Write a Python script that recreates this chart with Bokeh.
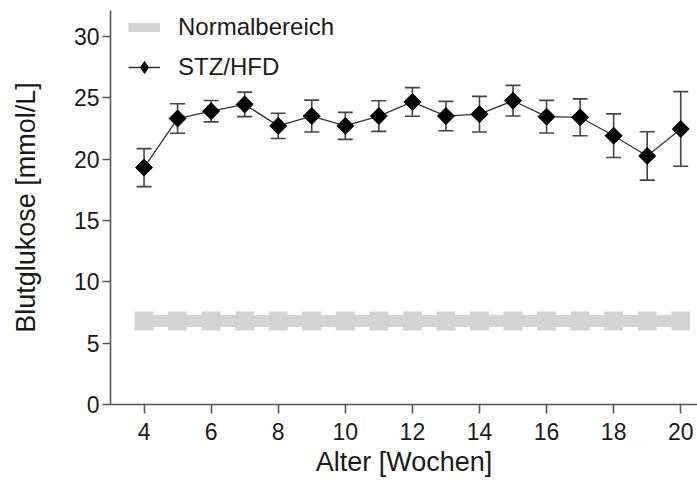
from bokeh.plotting import figure
from bokeh.models import ColumnDataSource, Whisker, TeeHead, Legend, LegendItem, Range1d, FixedTicker
from bokeh.embed import file_html
from bokeh.resources import INLINE
import math

# ---- data ----
weeks = [4, 5, 6, 7, 8, 9, 10, 11, 12, 13, 14, 15, 16, 17, 18, 19, 20]
glucose_mean = [19.3, 23.3, 23.9, 24.45, 22.7, 23.5, 22.7, 23.5, 24.65, 23.5, 23.65, 24.75, 23.45, 23.4, 21.9, 20.25, 22.45]
glucose_sem = [1.55, 1.2, 0.87, 1.0, 1.03, 1.3, 1.1, 1.25, 1.17, 1.2, 1.45, 1.25, 1.33, 1.5, 1.78, 1.97, 3.04]
normal_value = [6.8] * len(weeks)
x_ticks = [4, 6, 8, 10, 12, 14, 16, 18, 20]
y_ticks = [0, 5, 10, 15, 20, 25, 30]

FONT = "Liberation Sans"
AXIS_COL = "#555555"
TEXT_COL = "#1a1a1a"
GREY = "#d4d4d4"

src = ColumnDataSource(dict(
    x=weeks, y=glucose_mean,
    upper=[m + s for m, s in zip(glucose_mean, glucose_sem)],
    lower=[m - s for m, s in zip(glucose_mean, glucose_sem)],
))
nsrc = ColumnDataSource(dict(x=weeks, y=normal_value))
# legend-only source (no visible marks)
lsrc = ColumnDataSource(dict(x=weeks, y=[float("nan")] * len(weeks)))

p = figure(width=697, height=482, output_backend="svg", toolbar_location=None,
           x_range=Range1d(3.0, 20.5), y_range=Range1d(0, 32.1),
           min_border_left=110, min_border_right=0, min_border_top=10, min_border_bottom=78)
p.outline_line_color = None
p.grid.visible = False
p.background_fill_color = "white"
p.border_fill_color = "white"

# normal range band
p.line("x", "y", source=nsrc, line_color=GREY, line_width=12)
p.scatter("x", "y", source=nsrc, marker="square", size=19, fill_color=GREY, line_color=None)
legend_normal = p.line("x", "y", source=lsrc, line_color=GREY, line_width=9)

# error bars
wh = Whisker(base="x", upper="upper", lower="lower", source=src,
             line_color="#444444", line_width=1.6,
             upper_head=TeeHead(size=15, line_color="#444444", line_width=1.6),
             lower_head=TeeHead(size=15, line_color="#444444", line_width=1.6))
p.add_layout(wh)

ln = p.line("x", "y", source=src, line_color="#333333", line_width=1.3)
sc = p.scatter("x", "y", source=src, marker="square", angle=math.pi / 4, size=12,
               fill_color="black", line_color="black")
legend_line = p.line("x", "y", source=lsrc, line_color="#333333", line_width=1.3)
legend_marker = p.scatter("x", "y", source=lsrc, marker="diamond", size=14,
                          fill_color="black", line_color="black")

legend = Legend(items=[LegendItem(label="Normalbereich", renderers=[legend_normal], index=0),
                       LegendItem(label="STZ/HFD", renderers=[legend_line, legend_marker], index=0)],
                location=(18, 322), padding=0, margin=0, spacing=10,
                glyph_width=32, glyph_height=30, label_height=20, label_standoff=18,
                label_text_font=FONT, label_text_font_size="24px", label_text_color=TEXT_COL,
                background_fill_alpha=0, border_line_color=None)
p.add_layout(legend)

# axes
for ax in (p.xaxis[0], p.yaxis[0]):
    ax.axis_line_color = AXIS_COL
    ax.axis_line_width = 1.6
    ax.major_tick_line_color = AXIS_COL
    ax.major_tick_line_width = 1.6
    ax.major_tick_in = 0
    ax.minor_tick_line_color = None
    ax.major_label_text_font = FONT
    ax.major_label_text_font_size = "23px"
    ax.major_label_text_color = TEXT_COL
    ax.axis_label_text_font = FONT
    ax.axis_label_text_font_size = "27px"
    ax.axis_label_text_font_style = "normal"
    ax.axis_label_text_color = TEXT_COL

p.xaxis[0].ticker = FixedTicker(ticks=x_ticks)
p.yaxis[0].ticker = FixedTicker(ticks=y_ticks)
p.xaxis[0].major_tick_out = 9
p.yaxis[0].major_tick_out = 8
p.xaxis[0].major_label_standoff = 9
p.yaxis[0].major_label_standoff = 3
p.xaxis[0].axis_label = "Alter [Wochen]"
p.yaxis[0].axis_label = "Blutglukose [mmol/L]"
p.xaxis[0].axis_label_standoff = 4
p.yaxis[0].axis_label_standoff = 30

open("out.html", "w").write(file_html(p, INLINE))
